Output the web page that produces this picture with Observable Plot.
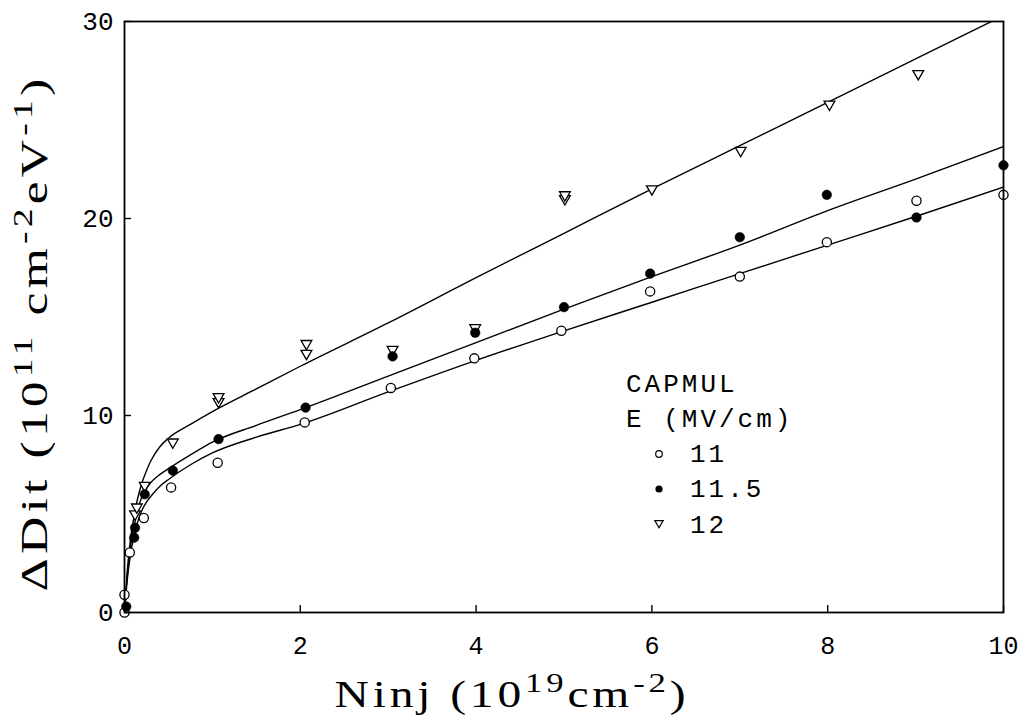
<!DOCTYPE html>
<html>
<head>
<meta charset="utf-8">
<script src="https://cdn.jsdelivr.net/npm/d3@7"></script>
<script src="https://cdn.jsdelivr.net/npm/@observablehq/plot@0.6"></script>
<style>
  html, body { margin: 0; padding: 0; background: #fff; }
  svg { display: block; }
</style>
</head>
<body>
<div id="chart"></div>
<script>
// ---- axis ticks ----
const xTicks = [0, 2, 4, 6, 8, 10];
const yTicks = [0, 10, 20, 30];

// ---- measured points (x: Ninj 1e19 cm^-2, y: ΔDit 1e11 cm^-2 eV^-1) ----
const e11X  = [0, 0, 0.06, 0.22, 0.53, 1.06, 2.05, 3.03, 3.98, 4.97, 5.98, 7.0, 7.99, 9.01, 10.0];
const e11Y  = [0, 0.9, 3.05, 4.8, 6.35, 7.6, 9.65, 11.4, 12.9, 14.3, 16.3, 17.05, 18.8, 20.9, 21.2];

const e115X = [0.02, 0.11, 0.12, 0.23, 0.55, 1.07, 2.06, 3.05, 3.99, 5.0, 5.98, 7.0, 7.99, 9.01, 10.0];
const e115Y = [0.3, 3.8, 4.3, 6.0, 7.2, 8.8, 10.4, 13.0, 14.2, 15.5, 17.2, 19.05, 21.2, 20.05, 22.7];

const e12X  = [0.12, 0.14, 0.23, 0.55, 1.07, 1.07, 2.07, 2.07, 3.05, 3.99, 5.01, 5.01, 6.0, 7.01, 8.02, 9.03];
const e12Y  = [5.0, 5.35, 6.45, 8.65, 10.7, 10.95, 13.15, 13.65, 13.35, 14.45, 21.0, 21.2, 21.5, 23.45, 25.8, 27.35];

// ---- fitted curves ----
const fitX    = [0, 0.03, 0.07, 0.11, 0.15, 0.2, 0.25, 0.3, 0.4, 0.5, 0.75, 1, 1.5, 2, 3, 4, 5, 6, 7, 8, 9, 10];
const fit12Y  = [0, 2.0, 3.8, 4.9, 5.8, 6.6, 7.2, 7.7, 8.4, 8.85, 9.55, 10.2, 11.35, 12.5, 14.7, 17.0, 19.25, 21.5, 23.7, 25.9, 28.1, 30.3];
const fit115Y = [0, 1.8, 3.4, 4.4, 5.2, 5.9, 6.3, 6.6, 7.0, 7.3, 8.0, 8.65, 9.5, 10.3, 12.0, 13.7, 15.4, 17.05, 18.65, 20.4, 22.0, 23.65];
const fit11Y  = [0, 1.6, 3.0, 3.9, 4.6, 5.2, 5.6, 5.9, 6.4, 6.75, 7.5, 8.1, 8.9, 9.55, 11.2, 12.8, 14.3, 15.75, 17.2, 18.65, 20.1, 21.6];

// ---- legend ----
const legendTitle = ["CAPMUL", "E (MV/cm)"];
const legendLabels = ["11", "11.5", "12"];

const zip = (xs, ys) => xs.map((x, i) => ({x, y: ys[i]}));
const pts11 = zip(e11X, e11Y), pts115 = zip(e115X, e115Y), pts12 = zip(e12X, e12Y);
const f12 = zip(fitX, fit12Y), f115 = zip(fitX, fit115Y), f11 = zip(fitX, fit11Y);

const mono = "'Liberation Mono', 'DejaVu Sans Mono', monospace";
const serif = "'Liberation Serif', 'DejaVu Serif', serif";

const plot = Plot.plot({
  width: 1020,
  height: 721,
  marginLeft: 124,
  marginRight: 17,
  marginTop: 21,
  marginBottom: 109,
  style: {background: "#fff", color: "#000"},
  x: {domain: [0, 10]},
  y: {domain: [0, 30]},
  marks: [
    Plot.line(f12,  {x: "x", y: "y", curve: "monotone-x", stroke: "#000", strokeWidth: 1.4, clip: true}),
    Plot.line(f115, {x: "x", y: "y", curve: "monotone-x", stroke: "#000", strokeWidth: 1.4, clip: true}),
    Plot.line(f11,  {x: "x", y: "y", curve: "monotone-x", stroke: "#000", strokeWidth: 1.4, clip: true}),
    Plot.dot(pts12, {x: "x", y: "y", symbol: "triangle", rotate: 180, r: 4, stroke: "#000", fill: "#fff", strokeWidth: 1.3}),
    Plot.dot(pts11, {x: "x", y: "y", r: 4.6, stroke: "#000", fill: "#fff", strokeWidth: 1.3}),
    Plot.dot(pts115, {x: "x", y: "y", r: 4.8, fill: "#000", stroke: "#000", strokeWidth: 0.5}),
    Plot.frame({stroke: "#000", strokeWidth: 1.8}),
    Plot.axisX({ticks: xTicks, tickSize: -7, tickFormat: () => "", label: null, strokeWidth: 1.4}),
    Plot.axisX({ticks: xTicks, tickSize: 0, tickPadding: 24, label: null, fontSize: 25, fontFamily: mono}),
    Plot.axisY({ticks: yTicks, tickSize: -7, tickFormat: () => "", label: null, strokeWidth: 1.4}),
    Plot.axisY({ticks: yTicks, tickSize: 0, tickPadding: 11, label: null, fontSize: 26, fontFamily: mono})
  ]
});

document.getElementById("chart").appendChild(plot);

const svg = d3.select(plot);

function stretchTo(sel, target) {
  const w = sel.node().getBBox().width;
  return w > 0 ? target / w : 1;
}

// x-axis title
const xtG = svg.append("g");
const xt = xtG.append("text")
  .attr("x", 0).attr("y", 0)
  .attr("text-anchor", "middle")
  .attr("font-family", serif)
  .attr("font-size", 37)
  .attr("letter-spacing", 3)
  .attr("fill", "#000");
xt.append("tspan").text("Ninj (10");
xt.append("tspan").attr("dy", -15).attr("font-size", 27).text("19");
xt.append("tspan").attr("dy", 15).text("cm");
xt.append("tspan").attr("dy", -15).attr("font-size", 27).text("-2");
xt.append("tspan").attr("dy", 15).text(")");
const sx = stretchTo(xt, 355);
xtG.attr("transform", `translate(512,707) scale(${sx},1)`);

// y-axis title
const ytG = svg.append("g");
const yt = ytG.append("text")
  .attr("x", 0).attr("y", 0)
  .attr("text-anchor", "middle")
  .attr("font-family", serif)
  .attr("font-size", 37)
  .attr("letter-spacing", 3)
  .attr("fill", "#000");
yt.append("tspan").text("ΔDit (10");
yt.append("tspan").attr("dy", -15).attr("font-size", 27).text("11");
yt.append("tspan").attr("dy", 15).text(" cm");
yt.append("tspan").attr("dy", -15).attr("font-size", 27).text("-2");
yt.append("tspan").attr("dy", 15).text("eV");
yt.append("tspan").attr("dy", -15).attr("font-size", 27).text("-1");
yt.append("tspan").attr("dy", 15).text(")");
const sy = stretchTo(yt, 517);
ytG.attr("transform", `translate(47,333) rotate(-90) scale(${sy},1)`);

// legend
const lg = svg.append("g")
  .attr("font-family", mono)
  .attr("font-size", 26)
  .attr("letter-spacing", 3)
  .attr("text-anchor", "start")
  .attr("fill", "#000");
legendTitle.forEach((t, i) => {
  lg.append("text").attr("x", 626).attr("y", 392 + i * 35).text(t);
});
const rowY = [462, 497, 533];
legendLabels.forEach((t, i) => {
  lg.append("text").attr("x", 690).attr("y", rowY[i]).text(t);
});
const symX = 659;
lg.append("circle").attr("cx", symX).attr("cy", 454).attr("r", 3.3)
  .attr("fill", "#fff").attr("stroke", "#000").attr("stroke-width", 1.2);
lg.append("circle").attr("cx", symX).attr("cy", 489).attr("r", 3.6).attr("fill", "#000");
lg.append("path").attr("transform", `translate(${symX},523) rotate(180)`)
  .attr("d", d3.symbol(d3.symbolTriangle, 30)())
  .attr("fill", "#fff").attr("stroke", "#000").attr("stroke-width", 1.2);
</script>
</body>
</html>
